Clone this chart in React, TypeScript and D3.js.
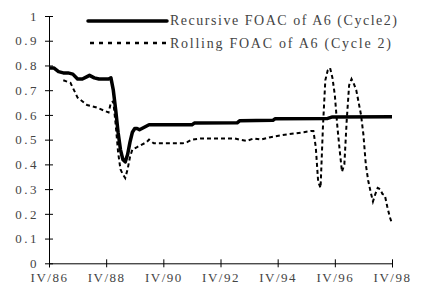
import React, { useEffect, useRef } from 'react';
import * as d3 from 'd3';

// months counted from IV/86 (0) to IV/98 (144)
const recursiveMonths = [0, 2, 4, 6, 8, 10, 12, 14, 16, 17, 19, 21, 25, 26, 27, 28, 29, 30, 31, 32, 33, 34, 35, 36, 37, 38, 40, 42, 60, 61, 79, 80, 94, 95, 117, 119, 144];
const recursiveValues = [0.79, 0.79, 0.775, 0.77, 0.77, 0.765, 0.745, 0.745, 0.755, 0.76, 0.75, 0.745, 0.745, 0.75, 0.7, 0.62, 0.53, 0.46, 0.42, 0.41, 0.44, 0.49, 0.53, 0.545, 0.545, 0.54, 0.55, 0.56, 0.56, 0.567, 0.568, 0.576, 0.578, 0.585, 0.586, 0.592, 0.593];

const rollingMonths = [6, 9, 12, 16, 20, 25, 26, 27, 28, 29, 30, 31, 32, 33, 34, 35, 36, 37, 39, 41, 42, 44, 50, 56, 58, 60, 64, 70, 78, 80, 83, 86, 89, 93, 99, 103, 107, 110, 111, 112, 113, 114, 115, 116, 117, 118, 119, 120, 121, 122, 123, 124, 125, 126, 127, 128, 129, 130, 131, 132, 133, 134, 135, 136, 137, 138, 139, 140, 141, 142, 143, 144];
const rollingValues = [0.74, 0.73, 0.67, 0.64, 0.63, 0.61, 0.65, 0.655, 0.56, 0.45, 0.38, 0.36, 0.345, 0.38, 0.43, 0.46, 0.465, 0.47, 0.48, 0.49, 0.5, 0.485, 0.485, 0.485, 0.49, 0.5, 0.505, 0.505, 0.505, 0.5, 0.495, 0.505, 0.5, 0.51, 0.52, 0.525, 0.53, 0.535, 0.535, 0.47, 0.33, 0.305, 0.55, 0.74, 0.78, 0.79, 0.75, 0.68, 0.56, 0.46, 0.37, 0.4, 0.58, 0.72, 0.745, 0.725, 0.7, 0.65, 0.6, 0.52, 0.4, 0.335, 0.29, 0.25, 0.28, 0.305, 0.3, 0.28, 0.275, 0.23, 0.19, 0.16];

const xTickMonths = [0, 24, 48, 72, 96, 120, 144];
const xTickLabels = ['IV/86', 'IV/88', 'IV/90', 'IV/92', 'IV/94', 'IV/96', 'IV/98'];
const yTicks = [0, 0.1, 0.2, 0.3, 0.4, 0.5, 0.6, 0.7, 0.8, 0.9, 1];

const seriesNames = ['Recursive FOAC of A6 (Cycle2)', 'Rolling FOAC of A6 (Cycle 2)'];

function App() {
  const chartRef = useRef<SVGSVGElement>(null);

  useEffect(() => {
    const svg = d3.select(chartRef.current);
    svg.selectAll('*').remove();
    const font = "'Liberation Serif', 'DejaVu Serif', serif";
    const textColor = '#444';

    const x = d3.scaleLinear().domain([0, 144]).range([49, 392]);
    const y = d3.scaleLinear().domain([0, 1]).range([263.3, 16]);

    // y axis
    const yAxis = svg.append('g')
      .attr('transform', 'translate(49,0)')
      .call(d3.axisLeft(y).tickValues(yTicks).tickSizeInner(4).tickSizeOuter(0).tickPadding(6)
        .tickFormat(d => String(+(+d).toFixed(1))));
    yAxis.attr('font-family', null).attr('font-size', null);
    yAxis.select('.domain').attr('stroke', '#000');
    yAxis.selectAll('.tick line').attr('x2', 4).attr('x1', -4);
    yAxis.selectAll('text')
      .style('font-family', font).style('font-size', '13px').attr('fill', textColor)
      .attr('letter-spacing', 2.5).attr('dy', '0.32em');

    // x axis
    const xAxis = svg.append('g')
      .attr('transform', 'translate(0,263.3)')
      .call(d3.axisBottom(x).tickValues(xTickMonths).tickSizeOuter(0).tickSize(4).tickPadding(5)
        .tickFormat((d, i) => xTickLabels[i]));
    xAxis.attr('font-family', null).attr('font-size', null);
    xAxis.select('.domain').attr('stroke', '#000');
    xAxis.selectAll('.tick line').attr('y1', -4).attr('y2', 4);
    xAxis.selectAll('text')
      .style('font-family', font).style('font-size', '13px').attr('fill', textColor)
      .attr('letter-spacing', 1.5).attr('dy', '0.71em');

    const line = d3.line<[number, number]>().x(d => x(d[0])).y(d => y(d[1]));

    svg.append('path')
      .datum(rollingMonths.map((m, i) => [m, rollingValues[i]] as [number, number]))
      .attr('d', line)
      .attr('fill', 'none').attr('stroke', '#000').attr('stroke-width', 2)
      .attr('stroke-dasharray', '4,3');

    svg.append('path')
      .datum(recursiveMonths.map((m, i) => [m, recursiveValues[i]] as [number, number]))
      .attr('d', line)
      .attr('fill', 'none').attr('stroke', '#000').attr('stroke-width', 3.5)
      .attr('stroke-linejoin', 'round');

    // legend
    const legend = svg.append('g');
    legend.append('line').attr('x1', 88).attr('x2', 167).attr('y1', 21).attr('y2', 21)
      .attr('stroke', '#000').attr('stroke-width', 3.5).attr('stroke-linecap', 'round');
    legend.append('line').attr('x1', 90).attr('x2', 166).attr('y1', 43).attr('y2', 43)
      .attr('stroke', '#000').attr('stroke-width', 2.5).attr('stroke-dasharray', '4,5');
    legend.append('text').attr('x', 170).attr('y', 25).text(seriesNames[0])
      .style('font-family', font).style('font-size', '14px').attr('fill', textColor)
      .attr('textLength', 227).attr('lengthAdjust', 'spacing');
    legend.append('text').attr('x', 170).attr('y', 48).text(seriesNames[1])
      .style('font-family', font).style('font-size', '14px').attr('fill', textColor)
      .attr('textLength', 221).attr('lengthAdjust', 'spacing');
  }, []);

  return (
    <div>
      <svg ref={chartRef} width={424} height={295}
        style={{ position: 'absolute', left: 0, top: 0, background: '#fff' }}></svg>
    </div>
  );
}

export default App;
